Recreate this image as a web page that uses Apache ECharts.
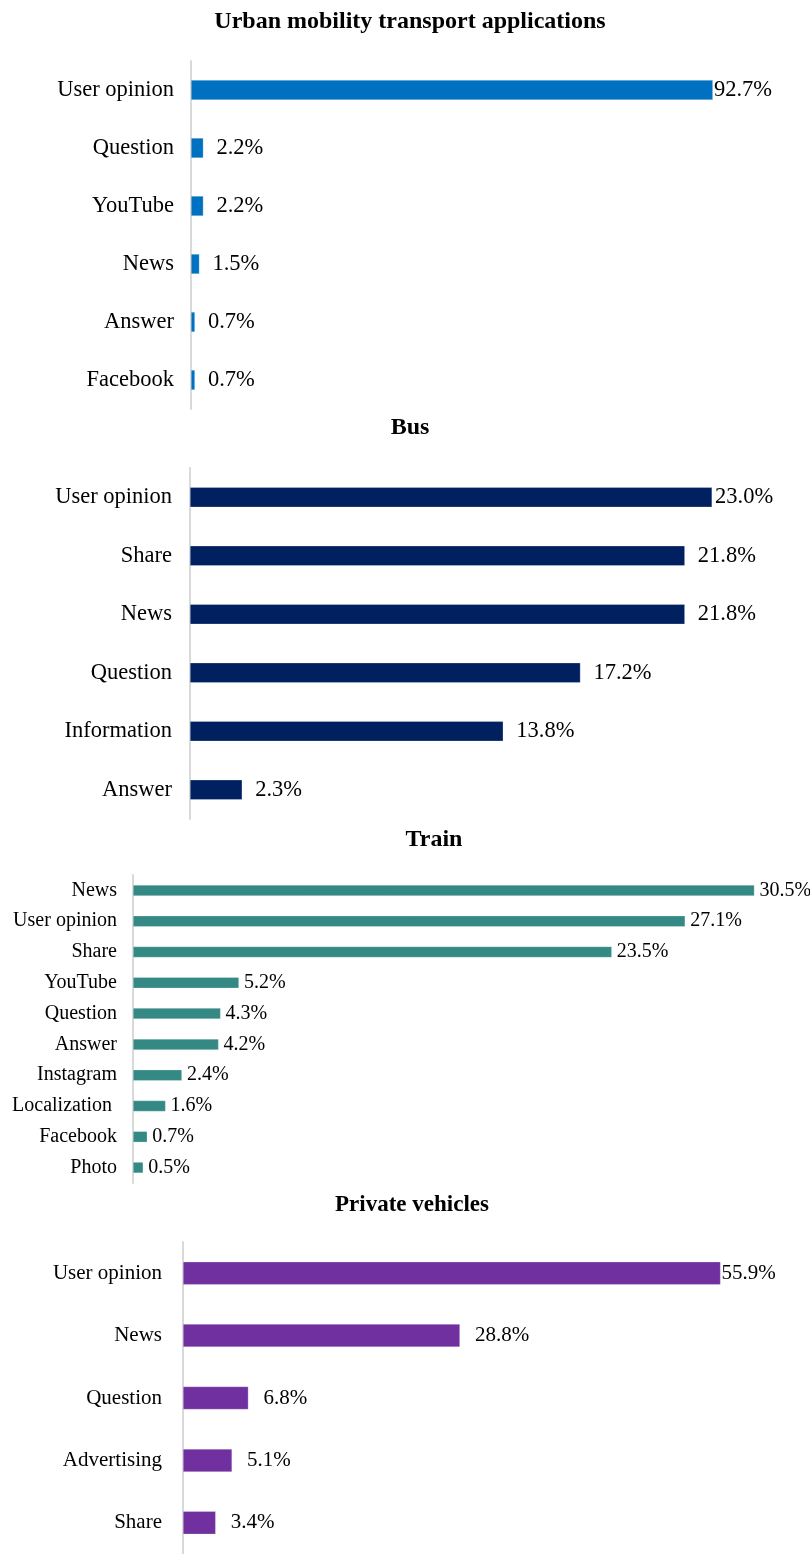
<!DOCTYPE html>
<html>
<head>
<meta charset="utf-8">
<script src="https://cdn.jsdelivr.net/npm/echarts@6/dist/echarts.min.js"></script>
<style>
html,body{margin:0;padding:0;background:#fff;}
#chart{width:810px;height:1554px;}
</style>
</head>
<body>
<div id="chart"></div>
<script>
// ---- Data ----
var titles = ['Urban mobility transport applications', 'Bus', 'Train', 'Private vehicles'];

var appsCategories = ['User opinion', 'Question', 'YouTube', 'News', 'Answer', 'Facebook'];
var appsValues = [92.7, 2.2, 2.2, 1.5, 0.7, 0.7];

var busCategories = ['User opinion', 'Share', 'News', 'Question', 'Information', 'Answer'];
var busValues = [23.0, 21.8, 21.8, 17.2, 13.8, 2.3];

var trainCategories = ['News', 'User opinion', 'Share', 'YouTube', 'Question', 'Answer', 'Instagram', 'Localization ', 'Facebook', 'Photo'];
var trainValues = [30.5, 27.1, 23.5, 5.2, 4.3, 4.2, 2.4, 1.6, 0.7, 0.5];

var privateCategories = ['User opinion', 'News', 'Question', 'Advertising', 'Share'];
var privateValues = [55.9, 28.8, 6.8, 5.1, 3.4];

// ---- Layout / style ----
var FONT = "'Liberation Serif', 'Times New Roman', serif";
var panels = [
  {cats: appsCategories, vals: appsValues, color: '#0070C0', left: 191, top: 61, width: 563, height: 348, max: 100, barW: 20, fs: 22.5, margin: 17, dist: 13, maxDist: 1, titleX: 410, titleY: 22, titleFs: 24},
  {cats: busCategories, vals: busValues, color: '#002060', left: 190, top: 468, width: 567.5, height: 351, max: 25, barW: 20, fs: 22.5, margin: 18, dist: 13, maxDist: 3, titleX: 410, titleY: 428, titleFs: 24},
  {cats: trainCategories, vals: trainValues, color: '#348985', left: 133, top: 875, width: 652, height: 308, max: 32, barW: 11, fs: 20, margin: 16, dist: 5, maxDist: 5, titleX: 434, titleY: 840, titleFs: 24},
  {cats: privateCategories, vals: privateValues, color: '#7030A0', left: 183, top: 1242, width: 577, height: 318, max: 60, barW: 23, fs: 21, margin: 21, dist: 15, maxDist: 1, titleX: 412, titleY: 1205, titleFs: 23}
];

var grid = [], xAxis = [], yAxis = [], series = [], graphics = [];
panels.forEach(function (p, i) {
  grid.push({left: p.left, top: p.top, width: p.width, height: p.height, containLabel: false});
  xAxis.push({
    type: 'value', gridIndex: i, min: 0, max: p.max, show: false,
    splitLine: {show: false}
  });
  yAxis.push({
    type: 'category', gridIndex: i, data: p.cats, inverse: true,
    axisLine: {show: true, lineStyle: {color: '#d9d9d9', width: 2}},
    axisTick: {show: false},
    axisLabel: {margin: p.margin, color: '#000', fontFamily: FONT, fontSize: p.fs}
  });
  var mx = Math.max.apply(null, p.vals);
  series.push({
    type: 'bar', xAxisIndex: i, yAxisIndex: i,
    barWidth: p.barW,
    itemStyle: {color: p.color, borderColor: 'rgba(255,255,255,0.5)', borderWidth: 0.5},
    data: p.vals.map(function (v) {
      return {value: v, label: {distance: v === mx ? p.maxDist : p.dist}};
    }),
    label: {
      show: true, position: 'right', color: '#000', fontFamily: FONT, fontSize: p.fs,
      formatter: function (d) { return d.value.toFixed(1) + '%'; }
    },
    animation: false
  });
  graphics.push({
    type: 'text', x: p.titleX, y: p.titleY,
    style: {text: titles[i], fill: '#000', font: 'bold ' + p.titleFs + 'px ' + FONT, textAlign: 'center', textVerticalAlign: 'middle'}
  });
});

var chart = echarts.init(document.getElementById('chart'), null, {renderer: 'canvas'});
chart.setOption({
  animation: false,
  backgroundColor: '#fff',
  grid: grid, xAxis: xAxis, yAxis: yAxis, series: series,
  graphic: graphics
});
</script>
</body>
</html>
